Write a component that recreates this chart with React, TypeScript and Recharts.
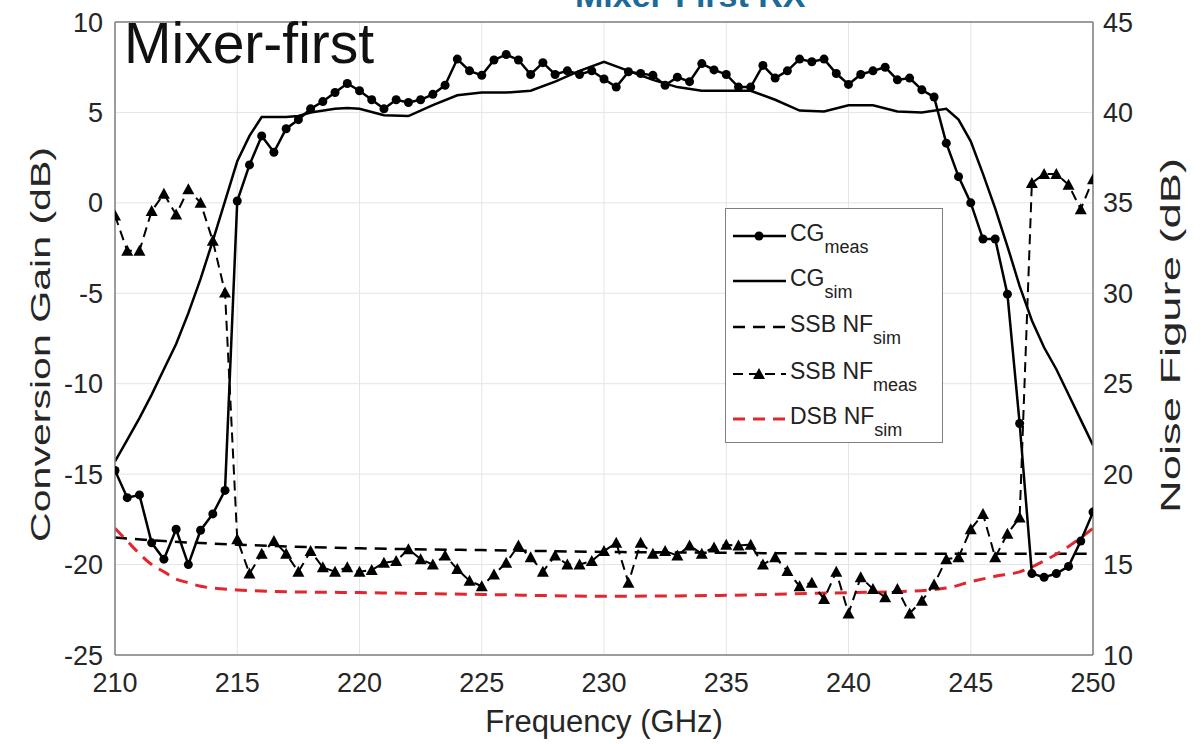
import React from 'react';
import { LineChart, Line, XAxis, YAxis, CartesianGrid, ReferenceLine } from 'recharts';

const freqTicks = [210, 215, 220, 225, 230, 235, 240, 245, 250];
const cgTicks = [-25, -20, -15, -10, -5, 0, 5, 10];
const nfTicks = [10, 15, 20, 25, 30, 35, 40, 45];

// measured points, 0.5 GHz apart
const measFreq = [
  210, 210.5, 211, 211.5, 212, 212.5, 213, 213.5, 214, 214.5,
  215, 215.5, 216, 216.5, 217, 217.5, 218, 218.5, 219, 219.5,
  220, 220.5, 221, 221.5, 222, 222.5, 223, 223.5, 224, 224.5,
  225, 225.5, 226, 226.5, 227, 227.5, 228, 228.5, 229, 229.5,
  230, 230.5, 231, 231.5, 232, 232.5, 233, 233.5, 234, 234.5,
  235, 235.5, 236, 236.5, 237, 237.5, 238, 238.5, 239, 239.5,
  240, 240.5, 241, 241.5, 242, 242.5, 243, 243.5, 244, 244.5,
  245, 245.5, 246, 246.5, 247, 247.5, 248, 248.5, 249, 249.5,
  250,
];

const cgMeas = [
  -14.8, -16.3, -16.15, -18.8, -19.7, -18.05, -20.0, -18.1, -17.2, -15.9,
  0.1, 2.1, 3.7, 2.8, 4.1, 4.6, 5.2, 5.6, 6.1, 6.6,
  6.2, 5.7, 5.2, 5.7, 5.55, 5.7, 6.0, 6.5, 7.95, 7.3,
  7.05, 7.9, 8.2, 7.9, 7.1, 7.75, 7.1, 7.3, 7.1, 7.3,
  6.85, 6.4, 7.25, 7.15, 7.05, 6.5, 6.95, 6.7, 7.7, 7.35,
  7.1, 6.4, 6.4, 7.6, 6.9, 7.3, 7.95, 7.8, 7.95, 7.15,
  6.55, 7.1, 7.3, 7.5, 6.8, 6.9, 6.25, 5.85, 3.3, 1.45,
  0.0, -2.0, -2.0, -5.05, -12.2, -20.5, -20.7, -20.5, -20.1, -18.7,
  -17.1,
];

const ssbNfMeas = [
  34.3, 32.35, 32.35, 34.55, 35.5, 34.35, 35.75, 35.0, 32.9, 30.05,
  16.4, 14.5, 15.6, 16.3, 15.6, 14.6, 15.75, 14.85, 14.6, 14.85,
  14.6, 14.7, 15.1, 15.2, 15.85, 15.3, 15.0, 15.5, 14.75, 14.1,
  13.8, 14.45, 15.1, 16.05, 15.4, 14.6, 15.5, 15.0, 15.0, 15.2,
  15.75, 16.2, 14.0, 16.2, 15.6, 15.75, 15.5, 16.05, 15.6, 15.95,
  16.1, 16.05, 16.1, 15.0, 15.4, 14.65, 13.8, 14.0, 13.1, 14.6,
  12.3, 14.3, 13.65, 13.2, 13.65, 12.3, 13.0, 13.9, 15.3, 15.4,
  16.95, 17.8, 15.4, 16.7, 17.6, 36.1, 36.6, 36.6, 36.0, 34.65,
  36.3,
];

const cgSimFreq = [
  210, 210.5, 211, 211.5, 212, 212.5, 213, 213.5, 214, 214.5,
  215, 215.5, 216, 217, 217.5, 218, 219, 219.5, 220, 221,
  222, 223, 224, 225, 226, 227, 228, 229, 230, 231,
  232, 233, 234, 235, 236, 237, 238, 239, 240, 241,
  242, 243, 244, 244.5, 245, 245.5, 246, 246.5, 247, 247.5,
  248, 248.5, 249, 249.5, 250,
];
const cgSim = [
  -14.3, -13.1, -11.9, -10.6, -9.2, -7.8, -6.1, -4.2, -2.1, 0.1,
  2.3, 3.7, 4.75, 4.75, 4.8, 5.0, 5.2, 5.25, 5.2, 4.85,
  4.8, 5.4, 5.95, 6.1, 6.1, 6.2, 6.7, 7.3, 7.8, 7.3,
  6.8, 6.4, 6.2, 6.2, 6.2, 5.7, 5.1, 5.05, 5.4, 5.4,
  5.05, 5.0, 5.2, 4.6, 3.4, 1.6, -0.3, -2.4, -4.6, -6.5,
  -8.0, -9.2, -10.6, -12.0, -13.4,
];

const ssbSimFreq = [210, 212, 215, 220, 225, 230, 235, 240, 245, 250];
const ssbNfSim = [16.5, 16.3, 16.1, 15.9, 15.8, 15.7, 15.65, 15.6, 15.6, 15.6];

const dsbSimFreq = [
  210, 210.5, 211, 211.5, 212, 212.5, 213, 213.5, 214, 215,
  217, 220, 225, 230, 235, 240, 242, 244, 245, 246,
  247, 248, 249, 250,
];
const dsbNfSim = [
  17.0, 16.3, 15.6, 15.0, 14.6, 14.2, 14.0, 13.8, 13.7, 13.6,
  13.5, 13.45, 13.35, 13.25, 13.3, 13.45, 13.5, 13.7, 14.05, 14.35,
  14.6, 15.2, 16.0, 17.0,
];

const pair = (xs: number[], ys: number[]) => xs.map((f, i) => ({ f, v: ys[i] }));

const cgMeasData = pair(measFreq, cgMeas);
const nfMeasData = pair(measFreq, ssbNfMeas);
const cgSimData = pair(cgSimFreq, cgSim);
const ssbSimData = pair(ssbSimFreq, ssbNfSim);
const dsbSimData = pair(dsbSimFreq, dsbNfSim);

const FONT = '"Liberation Sans", Arial, Helvetica, sans-serif';
const RED = '#e3262e';
const INK = '#262626';
const tickStyle = { fill: INK, fontSize: 27, fontFamily: FONT };

const TriangleDot = (props: any) => {
  const { cx, cy, index } = props;
  if (cx == null || cy == null) return <g key={`t-${index}`} />;
  return (
    <polygon
      key={`t-${index}`}
      points={`${cx},${cy - 6} ${cx - 6},${cy + 5} ${cx + 6},${cy + 5}`}
      fill="#000"
    />
  );
};

const LeftLabel = (props: any) => {
  const vb = props.viewBox || {};
  const cx = vb.x + 40;
  const cy = vb.y + vb.height / 2 + 6;
  return (
    <text
      x={cx}
      y={cy}
      transform={`rotate(-90 ${cx} ${cy})`}
      textAnchor="middle"
      dominantBaseline="central"
      fill={INK}
      fontFamily={FONT}
      fontSize={28}
      textLength={395}
      lengthAdjust="spacingAndGlyphs"
    >
      Conversion Gain (dB)
    </text>
  );
};

const RightLabel = (props: any) => {
  const vb = props.viewBox || {};
  const cx = vb.x + 77;
  const cy = vb.y + vb.height / 2 - 3;
  return (
    <text
      x={cx}
      y={cy}
      transform={`rotate(-90 ${cx} ${cy})`}
      textAnchor="middle"
      dominantBaseline="central"
      fill={INK}
      fontFamily={FONT}
      fontSize={28}
      textLength={355}
      lengthAdjust="spacingAndGlyphs"
    >
      Noise Figure (dB)
    </text>
  );
};

const BottomLabel = (props: any) => {
  const vb = props.viewBox || {};
  return (
    <text
      x={vb.x + vb.width / 2}
      y={vb.y + 77}
      textAnchor="middle"
      fill={INK}
      fontFamily={FONT}
      fontSize={31}
    >
      Frequency (GHz)
    </text>
  );
};

function LegendBox() {
  const rows = [27, 72, 118, 165, 210];
  const sub = (main: string, s: string, y: number) => (
    <text x={64} y={y + 5} fontFamily={FONT} fontSize={23} fill="#222">
      {main}
      <tspan dy={12} fontSize={18}>{s}</tspan>
    </text>
  );
  return (
    <div
      style={{
        position: 'absolute',
        left: 725,
        top: 208,
        width: 218,
        height: 235,
        background: '#fff',
        border: '1.5px solid #7f7f7f',
        boxSizing: 'border-box',
      }}
    >
      <svg width={218} height={235}>
        <line x1={7} x2={60} y1={rows[0]} y2={rows[0]} stroke="#000" strokeWidth={2.5} />
        <circle cx={33} cy={rows[0]} r={4.5} fill="#000" />
        {sub('CG', 'meas', rows[0])}
        <line x1={7} x2={60} y1={rows[1]} y2={rows[1]} stroke="#000" strokeWidth={2.5} />
        {sub('CG', 'sim', rows[1])}
        <line x1={7} x2={60} y1={rows[2]} y2={rows[2]} stroke="#000" strokeWidth={2.5} strokeDasharray="12 8" />
        {sub('SSB NF', 'sim', rows[2])}
        <line x1={7} x2={60} y1={rows[3]} y2={rows[3]} stroke="#000" strokeWidth={2} strokeDasharray="10 6" />
        <polygon points={`33,${rows[3] - 6} 27,${rows[3] + 5} 39,${rows[3] + 5}`} fill="#000" />
        {sub('SSB NF', 'meas', rows[3])}
        <line x1={7} x2={60} y1={rows[4]} y2={rows[4]} stroke={RED} strokeWidth={3} strokeDasharray="12 8" />
        {sub('DSB NF', 'sim', rows[4])}
      </svg>
    </div>
  );
}

export default function App() {
  return (
    <div style={{ position: 'absolute', left: 0, top: 0, width: 1201, height: 744, overflow: 'hidden', background: '#fff' }}>
      <div
        style={{
          position: 'absolute',
          left: 575,
          top: -22,
          fontFamily: FONT,
          fontWeight: 700,
          fontSize: 34,
          lineHeight: '34px',
          color: '#1d6a98',
          whiteSpace: 'nowrap',
        }}
      >
        Mixer-First RX
      </div>
      <LineChart width={1201} height={744} margin={{ top: 22, right: 0, bottom: 0, left: 0 }}>
        <CartesianGrid yAxisId="cg" stroke="#e4e4e4" strokeWidth={1} />
        <XAxis
          dataKey="f"
          type="number"
          domain={[210, 250]}
          ticks={freqTicks}
          allowDataOverflow
          height={89}
          tick={tickStyle}
          tickLine={false}
          tickSize={8}
          tickMargin={10}
          axisLine={{ stroke: '#7f7f7f', strokeWidth: 1.5 }}
          label={{ content: <BottomLabel /> }}
        />
        <YAxis
          yAxisId="cg"
          type="number"
          domain={[-25, 10]}
          ticks={cgTicks}
          allowDataOverflow
          width={115}
          tick={tickStyle}
          tickLine={false}
          tickSize={8}
          tickMargin={4}
          axisLine={{ stroke: '#7f7f7f', strokeWidth: 1.5 }}
          label={{ content: <LeftLabel /> }}
        />
        <YAxis
          yAxisId="nf"
          orientation="right"
          type="number"
          domain={[10, 45]}
          ticks={nfTicks}
          allowDataOverflow
          width={108}
          tick={tickStyle}
          tickLine={false}
          tickSize={8}
          tickMargin={2}
          axisLine={{ stroke: '#7f7f7f', strokeWidth: 1.5 }}
          label={{ content: <RightLabel /> }}
        />
        <ReferenceLine yAxisId="cg" y={10} stroke="#7f7f7f" strokeWidth={1.5} />
        <Line
          yAxisId="cg"
          data={cgSimData}
          dataKey="v"
          type="linear"
          stroke="#000"
          strokeWidth={2.5}
          dot={false}
          isAnimationActive={false}
        />
        <Line
          yAxisId="nf"
          data={ssbSimData}
          dataKey="v"
          type="monotone"
          stroke="#000"
          strokeWidth={2.5}
          strokeDasharray="12 8"
          dot={false}
          isAnimationActive={false}
        />
        <Line
          yAxisId="nf"
          data={dsbSimData}
          dataKey="v"
          type="monotone"
          stroke={RED}
          strokeWidth={3}
          strokeDasharray="12 8"
          dot={false}
          isAnimationActive={false}
        />
        <Line
          yAxisId="nf"
          data={nfMeasData}
          dataKey="v"
          type="linear"
          stroke="#000"
          strokeWidth={2}
          strokeDasharray="10 6"
          dot={TriangleDot}
          isAnimationActive={false}
        />
        <Line
          yAxisId="cg"
          data={cgMeasData}
          dataKey="v"
          type="linear"
          stroke="#000"
          strokeWidth={2.5}
          dot={{ r: 4.5, fill: '#000', stroke: '#000', strokeWidth: 0 }}
          isAnimationActive={false}
        />
      </LineChart>
      <div
        style={{
          position: 'absolute',
          left: 124,
          top: 10,
          fontFamily: FONT,
          fontSize: 57,
          lineHeight: '66px',
          color: '#111',
          whiteSpace: 'nowrap',
        }}
      >
        Mixer-first
      </div>
      <LegendBox />
    </div>
  );
}
